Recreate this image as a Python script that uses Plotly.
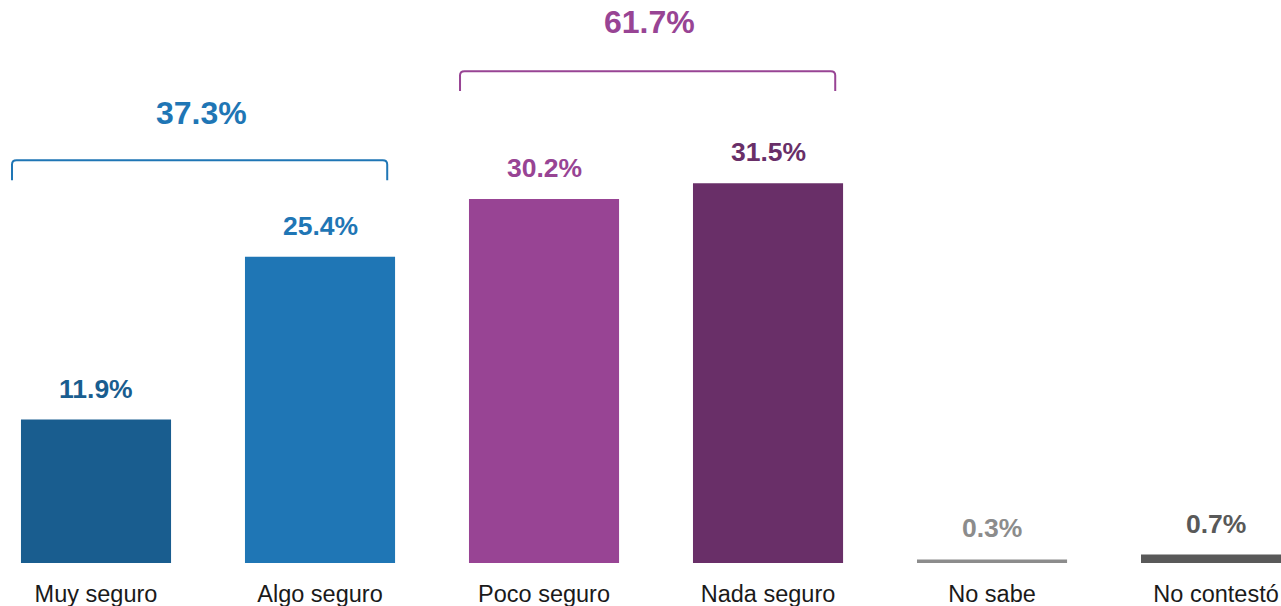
import plotly.graph_objects as go

categories = ["Muy seguro", "Algo seguro", "Poco seguro", "Nada seguro", "No sabe", "No contestó"]
values = [11.9, 25.4, 30.2, 31.5, 0.3, 0.7]
bar_colors = ["#195D8F", "#1F76B5", "#984494", "#692F68", "#8C8C8C", "#595959"]
value_labels = ["11.9%", "25.4%", "30.2%", "31.5%", "0.3%", "0.7%"]

group_labels = ["37.3%", "61.7%"]
group_colors = ["#1F76B5", "#984494"]
group_spans = [(0, 1), (2, 3)]
group_bracket_y = [33.4, 40.8]
group_label_y = [37.3, 44.9]

FONT = "Liberation Sans, Arial, sans-serif"

fig = go.Figure()
fig.add_trace(go.Bar(
    x=list(range(len(categories))),
    y=values,
    marker=dict(color=bar_colors, line=dict(width=0)),
    width=0.67,
    hoverinfo="skip",
))

for i, (v, lab, c) in enumerate(zip(values, value_labels, bar_colors)):
    fig.add_annotation(
        x=i, y=v, text="<b>%s</b>" % lab, showarrow=False,
        yanchor="bottom", yshift=14,
        font=dict(family=FONT, size=26.5, color=c),
    )

for (a, b), lab, c, by, ly in zip(group_spans, group_labels, group_colors, group_bracket_y, group_label_y):
    x0 = a - 0.375
    x1 = b + 0.30
    drop = 1.65
    rx, ry = 0.02, 0.35
    path = (f"M {x0},{by - drop} L {x0},{by - ry} Q {x0},{by} {x0 + rx},{by} "
            f"L {x1 - rx},{by} Q {x1},{by} {x1},{by - ry} L {x1},{by - drop}")
    fig.add_shape(type="path", path=path, xref="x", yref="y",
                  line=dict(color=c, width=2))
    fig.add_annotation(
        x=(x0 + x1) / 2 + 0.01, y=ly, text="<b>%s</b>" % lab, showarrow=False,
        yanchor="middle",
        font=dict(family=FONT, size=32, color=c),
    )

fig.update_layout(
    width=1281, height=606, autosize=False,
    margin=dict(l=0, r=0, t=0, b=43),
    plot_bgcolor="white", paper_bgcolor="white",
    showlegend=False,
    xaxis=dict(
        range=[-0.4286, 5.29],
        tickmode="array", tickvals=list(range(len(categories))), ticktext=categories,
        tickfont=dict(family=FONT, size=23.5, color="#1a1a1a"),
        showgrid=False, zeroline=False, showline=False,
        ticks="outside", ticklen=10, tickcolor="white",
        fixedrange=True,
    ),
    yaxis=dict(
        range=[0, 46.7], visible=False, showgrid=False, zeroline=False,
        fixedrange=True,
    ),
)

fig.write_html(
    "out.html",
    config={"displayModeBar": False},
    post_script="document.body.style.margin='0';document.body.style.overflow='hidden';",
)
